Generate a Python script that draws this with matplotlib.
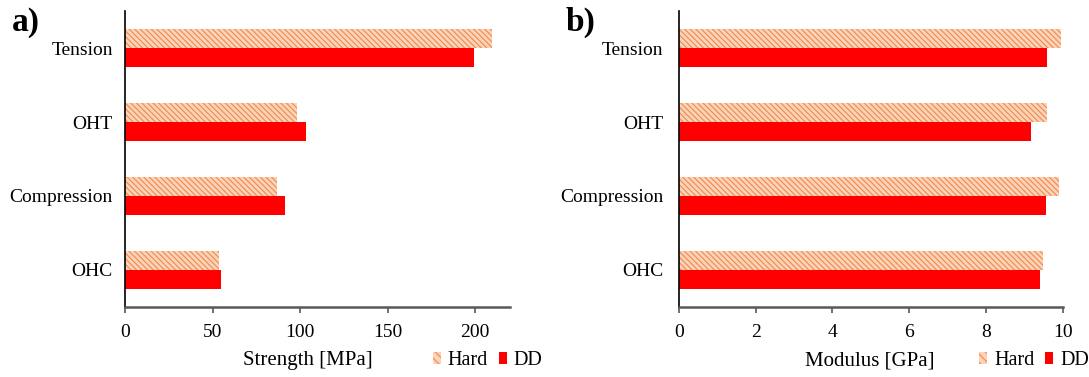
import numpy as np
import matplotlib
matplotlib.use('Agg')
import matplotlib.pyplot as plt
from matplotlib.patches import Patch
from matplotlib.font_manager import FontProperties

plt.rcParams['font.family'] = ['Liberation Serif', 'DejaVu Serif']
plt.rcParams['hatch.linewidth'] = 0.8

# ── data ──────────────────────────────────────────────────────────────
categories = ['Tension', 'OHT', 'Compression', 'OHC']
strength_hard = [209.5, 97.9, 86.9, 53.8]
strength_dd   = [199.2, 103.1, 91.2, 54.8]
modulus_hard  = [9.95, 9.60, 9.91, 9.50]
modulus_dd    = [9.60, 9.17, 9.56, 9.40]

strength_ticks = [0, 50, 100, 150, 200]
modulus_ticks  = [0, 2, 4, 6, 8, 10]

HARD_FACE = '#FAD3B8'
HARD_HATCH = '#F08A4B'
DD_COLOR = '#FF0000'
AXIS_GRAY = '#595959'
LEG_FONT = FontProperties(family='Liberation Serif', size=14.5)

fig = plt.figure(figsize=(10.89, 3.77), dpi=100)
ax_a = fig.add_axes([0.1151, 0.1857, 0.3532, 0.7851])
ax_b = fig.add_axes([0.6234, 0.1857, 0.3524, 0.7851])

ypos = np.arange(len(categories))[::-1]
bh = 0.26


def draw_panel(ax, hard, dd, xmax, ticks, xlabel, label_x, letter, legend_x, ypad):
    ax.barh(ypos + bh / 2, hard, height=bh, color=HARD_FACE,
            edgecolor=HARD_HATCH, hatch='\\\\\\\\\\\\', linewidth=0)
    ax.barh(ypos - bh / 2, dd, height=bh, color=DD_COLOR, linewidth=0)
    ax.set_xlim(0, xmax)
    ax.set_ylim(-0.5, len(categories) - 0.5)
    ax.set_yticks(ypos)
    ax.set_yticklabels(categories, fontsize=14)
    ax.tick_params(axis='y', length=0, pad=ypad)
    ax.set_xticks(ticks)
    ax.tick_params(axis='x', labelsize=14, length=4.5, width=1.2,
                   color=AXIS_GRAY, direction='out', pad=8)
    for s in ['top', 'right']:
        ax.spines[s].set_visible(False)
    ax.spines['left'].set_color('black')
    ax.spines['left'].set_linewidth(1.2)
    ax.spines['bottom'].set_color(AXIS_GRAY)
    ax.spines['bottom'].set_linewidth(1.8)
    ax.text(label_x, -0.182, xlabel, transform=ax.transAxes, fontsize=15,
            ha='center', va='center')
    ax.text(-0.295, 0.96, letter, transform=ax.transAxes, fontsize=24,
            fontweight='bold', ha='left', va='center')
    handles = [Patch(facecolor=HARD_FACE, edgecolor=HARD_HATCH,
                     hatch='\\\\\\\\', linewidth=0, label='Hard'),
               Patch(facecolor=DD_COLOR, linewidth=0, label='DD')]
    ax.legend(handles=handles, loc='center left',
              bbox_to_anchor=(legend_x, -0.18), ncol=2, frameon=False,
              prop=LEG_FONT, handlelength=0.38, handleheight=0.55,
              handletextpad=0.35, columnspacing=0.55,
              borderpad=0, borderaxespad=0)


draw_panel(ax_a, strength_hard, strength_dd, 220, strength_ticks,
           'Strength [MPa]', 0.475, 'a)', 0.80, 9)
draw_panel(ax_b, modulus_hard, modulus_dd, 10, modulus_ticks,
           'Modulus [GPa]', 0.497, 'b)', 0.783, 11)

fig.savefig('out.png', dpi=100)
